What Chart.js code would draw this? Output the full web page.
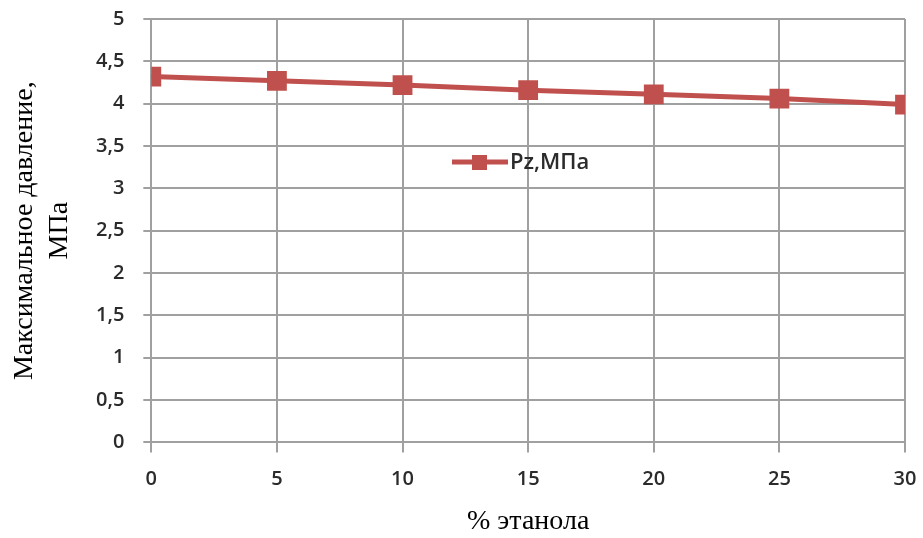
<!DOCTYPE html>
<html>
<head>
<meta charset="utf-8">
<script src="https://cdn.jsdelivr.net/npm/chart.js@4"></script>
<style>
  html, body { margin: 0; padding: 0; background: #fff; }
  #wrap { width: 923px; height: 538px; }
</style>
</head>
<body>
<div id="wrap"><canvas id="chart" width="923" height="538"></canvas></div>
<script>
// данные графика
const ethanolPct = [0, 5, 10, 15, 20, 25, 30];
const pzValues = [4.32, 4.27, 4.22, 4.16, 4.11, 4.06, 3.99];
const seriesName = 'Pz,МПа';
const xTitle = '% этанола';
const yTitle = ['Максимальное давление,', 'МПа'];

const lineColor = '#c0504d';
const gridColor = '#a0a0a0';
const tickFont = { family: 'Open Sans', size: 20, weight: '600' };

// легенда внутри области графика (как в Excel)
const insideLegend = {
    id: 'insideLegend',
    afterDatasetsDraw(chart) {
        const ctx = chart.ctx;
        const x0 = 452, y0 = 162;
        ctx.save();
        ctx.strokeStyle = lineColor;
        ctx.lineWidth = 5;
        ctx.beginPath();
        ctx.moveTo(x0, y0);
        ctx.lineTo(x0 + 56, y0);
        ctx.stroke();
        ctx.fillStyle = lineColor;
        ctx.fillRect(x0 + 20, y0 - 7, 15, 15);
        ctx.fillStyle = '#2b2b2b';
        ctx.font = '600 22px "Open Sans"';
        ctx.textBaseline = 'middle';
        ctx.fillText(seriesName, x0 + 58, y0 + 1);
        ctx.restore();
    }
};

const ctx = document.getElementById('chart').getContext('2d');
new Chart(ctx, {
    type: 'line',
    data: {
        datasets: [{
            label: seriesName,
            data: ethanolPct.map((x, i) => ({ x: x, y: pzValues[i] })),
            borderColor: lineColor,
            backgroundColor: lineColor,
            borderWidth: 5,
            pointStyle: 'rect',
            pointRadius: 14,
            pointHoverRadius: 14,
            pointBorderWidth: 0,
            tension: 0
        }]
    },
    options: {
        responsive: false,
        animation: false,
        layout: { padding: { top: 19, right: 18, left: 7, bottom: 0 } },
        plugins: {
            legend: { display: false },
            tooltip: { enabled: false }
        },
        scales: {
            x: {
                type: 'linear',
                min: 0,
                max: 30,
                afterFit: s => { s.paddingRight = 0; },
                ticks: { stepSize: 5, color: '#2b2b2b', font: tickFont, padding: 15 },
                grid: { color: gridColor, lineWidth: 2, tickLength: 10 },
                border: { color: gridColor, width: 2 },
                title: {
                    display: true,
                    text: xTitle,
                    color: '#000',
                    font: { family: 'Liberation Serif', size: 28 },
                    padding: { top: -2, bottom: 0 }
                }
            },
            y: {
                min: 0,
                max: 5,
                // отступ подписей не должен сдвигать верх области графика
                afterFit: s => { s.paddingTop = 0; s.paddingBottom = 0; },
                ticks: {
                    stepSize: 0.5,
                    color: '#2b2b2b',
                    font: tickFont,
                    padding: 19,
                    callback: v => String(v).replace('.', ',')
                },
                grid: { color: gridColor, lineWidth: 2, tickLength: 8 },
                border: { color: gridColor, width: 2 },
                title: {
                    display: true,
                    text: yTitle,
                    color: '#000',
                    font: { family: 'Liberation Serif', size: 28, lineHeight: 1.25 },
                    padding: { top: 0, bottom: 0 }
                }
            }
        }
    },
    plugins: [insideLegend]
});
</script>
</body>
</html>
